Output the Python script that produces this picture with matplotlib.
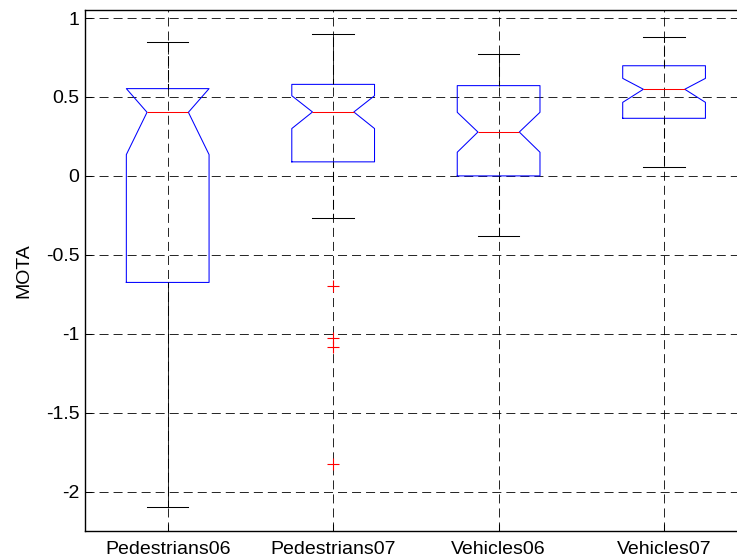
import matplotlib
matplotlib.use("Agg")
import matplotlib.pyplot as plt

plt.rcParams['font.family'] = ['Liberation Sans', 'DejaVu Sans']
plt.rcParams['lines.scale_dashes'] = False

# Box statistics (MOTA per category)
labels = ['Pedestrians06', 'Pedestrians07', 'Vehicles06', 'Vehicles07']
medians = [0.403, 0.405, 0.278, 0.549]
q1 = [-0.675, 0.089, 0.0, 0.365]
q3 = [0.553, 0.580, 0.572, 0.698]
notch_lo = [0.135, 0.300, 0.150, 0.466]
notch_hi = [0.553, 0.508, 0.403, 0.618]
whisk_lo = [-2.10, -0.268, -0.378, 0.057]
whisk_hi = [0.848, 0.897, 0.774, 0.880]
outliers = [[], [-0.70, -1.027, -1.082, -1.825], [], []]

stats = []
for i, lab in enumerate(labels):
    stats.append(dict(label=lab, med=medians[i], q1=q1[i], q3=q3[i],
                      cilo=notch_lo[i], cihi=notch_hi[i],
                      whislo=whisk_lo[i], whishi=whisk_hi[i],
                      fliers=outliers[i]))

fig = plt.figure(figsize=(7.37, 5.6), dpi=100)
ax = fig.add_axes([0.1153, 0.0518, 0.898, 0.930])

ax.bxp(stats, positions=[1, 2, 3, 4], widths=0.5, shownotches=True,
       boxprops=dict(color='blue', linewidth=0.75),
       medianprops=dict(color='red', linewidth=0.75),
       whiskerprops=dict(color='black', linewidth=0.75, linestyle=(3, (7, 3))),
       capprops=dict(color='black', linewidth=0.75),
       flierprops=dict(marker='+', markeredgecolor='red', markersize=8,
                       markeredgewidth=0.8, linestyle='none'))

ax.set_xlim(0.5, 4.5)
ax.set_ylim(-2.25, 1.05)
ax.set_yticks([-2, -1.5, -1, -0.5, 0, 0.5, 1])
ax.set_yticklabels(['-2', '-1.5', '-1', '-0.5', '0', '0.5', '1'])
ax.set_xticks([1, 2, 3, 4])
ax.set_xticklabels(labels)
ax.grid(True, color='black', linestyle=(0, (6.5, 3.6)), linewidth=0.6)
ax.set_axisbelow(True)
ax.tick_params(direction='in', length=5, labelsize=14, width=0.75)
ax.tick_params(axis='x', pad=7)
ax.tick_params(axis='y', pad=4)
ax.set_ylabel('MOTA', fontsize=14, labelpad=10)
for s in ax.spines.values():
    s.set_linewidth(1.0)

fig.savefig('out.png', dpi=100)
